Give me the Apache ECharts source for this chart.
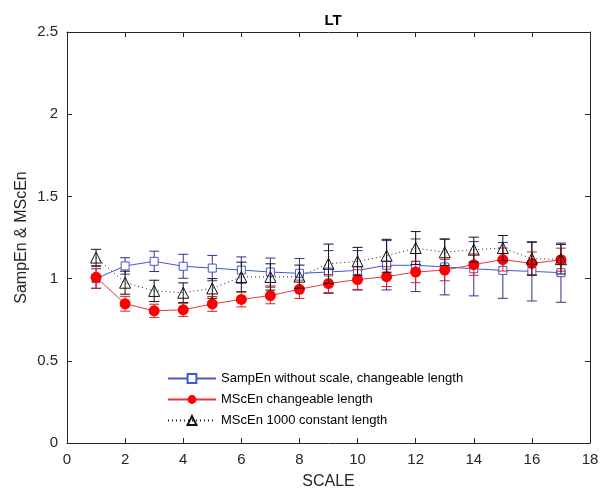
<!DOCTYPE html>
<html>
<head>
<meta charset="utf-8">
<script src="https://cdn.jsdelivr.net/npm/echarts@6/dist/echarts.min.js"></script>
<style>
html,body{margin:0;padding:0;background:#fff;}
#chart{width:612px;height:495px;}
</style>
</head>
<body>
<div id="chart"></div>
<script>
const scales = [1,2,3,4,5,6,7,8,9,10,11,12,13,14,15,16,17];
const sampEn = [1.00,1.077,1.105,1.075,1.064,1.052,1.04,1.032,1.04,1.05,1.081,1.081,1.071,1.06,1.05,1.044,1.036];
const sampEnErr = [0.06,0.05,0.062,0.073,0.077,0.08,0.085,0.09,0.13,0.12,0.15,0.16,0.17,0.165,0.17,0.18,0.18];
const mscen = [1.008,0.847,0.804,0.81,0.846,0.873,0.897,0.935,0.97,0.994,1.012,1.04,1.052,1.085,1.116,1.092,1.115];
const mscenErr = [0.066,0.045,0.04,0.04,0.045,0.045,0.05,0.056,0.055,0.06,0.06,0.065,0.065,0.065,0.07,0.07,0.07];
const mscen1000 = [1.128,0.975,0.925,0.914,0.94,1.01,1.01,1.012,1.09,1.105,1.139,1.186,1.16,1.176,1.186,1.121,1.118];
const mscen1000Err = [0.05,0.07,0.065,0.06,0.06,0.09,0.08,0.07,0.12,0.085,0.1,0.1,0.08,0.076,0.076,0.1,0.09];
const xTicks = [0,2,4,6,8,10,12,14,16,18];
const yTicks = [0,0.5,1,1.5,2,2.5];
const names = ['SampEn without scale, changeable length','MScEn changeable length','MScEn 1000 constant length'];

const pts = (vals) => scales.map((s,i)=>[s, vals[i]]);
const errData = (vals, errs) => scales.map((s,i)=>[s, vals[i]-errs[i], vals[i]+errs[i]]);

function errRender(color){
  return function(params, api){
    const x = api.value(0);
    const lo = api.coord([x, api.value(1)]);
    const hi = api.coord([x, api.value(2)]);
    const hw = 5;
    const st = {stroke: color, lineWidth: 1};
    return {type:'group', children:[
      {type:'line', shape:{x1:lo[0],y1:lo[1],x2:hi[0],y2:hi[1]}, style:st},
      {type:'line', shape:{x1:lo[0]-hw,y1:lo[1],x2:lo[0]+hw,y2:lo[1]}, style:st},
      {type:'line', shape:{x1:hi[0]-hw,y1:hi[1],x2:hi[0]+hw,y2:hi[1]}, style:st}
    ]};
  };
}

const axisCol = '#262626';
const font = 'Arial, "Liberation Sans", sans-serif';
const chart = echarts.init(document.getElementById('chart'));
chart.setOption({
  animation: false,
  backgroundColor: '#fff',
  title: {text:'LT', left: 328, textAlign:'center', top: 8,
    textStyle:{fontFamily: font, fontSize: 15, fontWeight:'bold', color:'#000'}},
  grid: {left: 67, right: 22, top: 32, bottom: 50},
  legend: {
    orient:'vertical', left: 162, top: 367, itemGap: 8, itemWidth: 48, itemHeight: 11,
    data: names,
    textStyle:{fontFamily: font, fontSize: 13, color:'#000'}
  },
  xAxis: [{
    type:'value', min: xTicks[0], max: xTicks[xTicks.length-1], interval: 2,
    name:'SCALE', nameLocation:'middle', nameGap: 31, nameMoveOverlap: false,
    nameTextStyle:{fontFamily: font, fontSize: 16, color: axisCol},
    axisLine:{lineStyle:{color: axisCol}},
    axisTick:{inside:true, length:5, lineStyle:{color: axisCol}},
    axisLabel:{fontFamily: font, fontSize: 15, color: axisCol, margin: 9},
    splitLine:{show:false}
  },{
    type:'value', position:'top', min: 0, max: 18, interval: 2,
    axisLine:{show:true, onZero:false, lineStyle:{color: axisCol}},
    axisTick:{inside:true, length:5, lineStyle:{color: axisCol}},
    axisLabel:{show:false}, splitLine:{show:false}
  }],
  yAxis: [{
    type:'value', min: yTicks[0], max: yTicks[yTicks.length-1], interval: 0.5,
    name:'SampEn & MScEn', nameLocation:'middle', nameGap: 37, nameMoveOverlap: false,
    nameTextStyle:{fontFamily: font, fontSize: 16, color: axisCol},
    axisLine:{show:true, lineStyle:{color: axisCol}},
    axisTick:{show:true, inside:true, length:5, lineStyle:{color: axisCol}},
    axisLabel:{fontFamily: font, fontSize: 15, color: axisCol, margin: 9},
    splitLine:{show:false}
  },{
    type:'value', position:'right', min: 0, max: 2.5, interval: 0.5,
    axisLine:{show:true, onZero:false, lineStyle:{color: axisCol}},
    axisTick:{show:true, inside:true, length:5, lineStyle:{color: axisCol}},
    axisLabel:{show:false}, splitLine:{show:false}
  }],
  series: [
    {type:'custom', name:'e1', data: errData(sampEn, sampEnErr), renderItem: errRender('#33338f'), z: 2, silent:true},
    {type:'line', name: names[0], data: pts(sampEn), z: 3,
      symbol:'rect', symbolSize: 8,
      lineStyle:{color:'#4455d8', width:1},
      itemStyle:{color:'#fff', borderColor:'#4455d8', borderWidth:1}},
    {type:'custom', name:'e2', data: errData(mscen, mscenErr), renderItem: errRender('#e02020'), z: 4, silent:true},
    {type:'line', name: names[1], data: pts(mscen), z: 5,
      symbol:'circle', symbolSize: 11,
      lineStyle:{color:'#e03a3a', width:1},
      itemStyle:{color:'#ff0000', borderColor:'#e00000', borderWidth:0}},
    {type:'custom', name:'e3', data: errData(mscen1000, mscen1000Err), renderItem: errRender('#111'), z: 6, silent:true},
    {type:'line', name: names[2], data: pts(mscen1000), z: 7,
      symbol:'triangle', symbolSize: 11,
      lineStyle:{color:'#222', width:1, type:[1,3]},
      itemStyle:{color:'rgba(255,255,255,0)', borderColor:'#111', borderWidth:1}}
  ]
});
</script>
</body>
</html>
